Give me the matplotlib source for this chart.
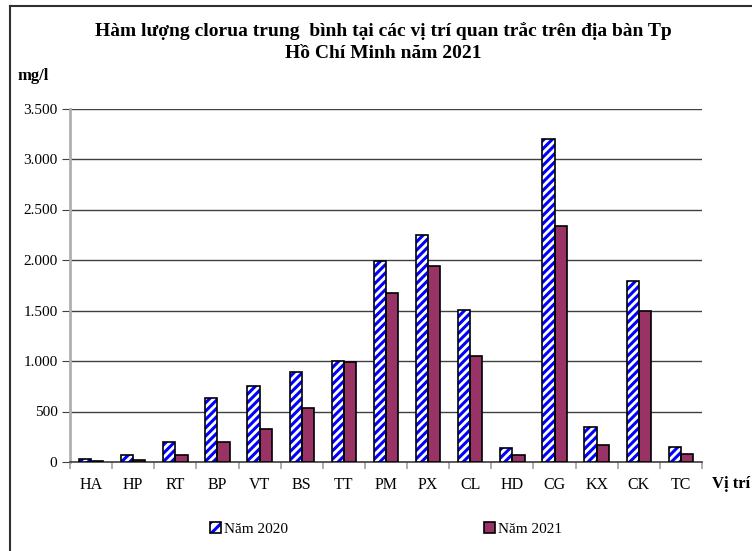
# Hàm lượng clorua trung bình - grouped bar chart 2020 vs 2021
import matplotlib
matplotlib.use("Agg")
import matplotlib.pyplot as plt
import numpy as np
from matplotlib.lines import Line2D
from matplotlib.patches import Patch
from matplotlib.legend_handler import HandlerTuple

plt.rcParams['font.family'] = ['Liberation Serif', 'DejaVu Serif']
plt.rcParams['hatch.linewidth'] = 2.2

# data
sites = ['HA', 'HP', 'RT', 'BP', 'VT', 'BS', 'TT', 'PM', 'PX', 'CL', 'HD', 'CG', 'KX', 'CK', 'TC']
y2020 = [30, 65, 195, 630, 750, 895, 1003, 1995, 2243, 1508, 135, 3200, 342, 1797, 145]
y2021 = [12, 20, 65, 200, 325, 530, 992, 1673, 1943, 1046, 73, 2333, 165, 1500, 83]
yticks = [0, 500, 1000, 1500, 2000, 2500, 3000, 3500]
ytick_labels = ['0', '500', '1.000', '1.500', '2.000', '2.500', '3.000', '3.500']

fig = plt.figure(figsize=(7.52, 5.51), dpi=100)
ax = fig.add_axes([70/752, 89/551, 632/752, 353.5/551])

x = np.arange(len(sites))
w = 0.29
# blue hatch layer, then black outline on top
ax.bar(x - w/2, y2020, w, color='white', edgecolor='#0000ff', hatch='////',
       linewidth=0, zorder=3)
ax.bar(x - w/2, y2020, w, fill=False, edgecolor='black', linewidth=1.2, zorder=4)
ax.bar(x + w/2, y2021, w, color='#993366', edgecolor='black',
       linewidth=1.2, zorder=3)

ax.set_xlim(-0.5, len(sites) - 0.5)
ax.set_ylim(0, 3500)
ax.set_yticks(yticks)
ax.set_yticklabels(ytick_labels, fontsize=11)
ax.yaxis.grid(True, color='#404040', linewidth=1, zorder=0)
ax.tick_params(axis='y', length=6, color='#404040', pad=3)

# category boundaries as major ticks, labels on minor ticks
ax.set_xticks(np.arange(-0.5, len(sites), 1))
ax.set_xticklabels([])
ax.set_xticks(x, minor=True)
ax.set_xticklabels(sites, minor=True, fontsize=11.5)
ax.tick_params(axis='x', which='major', length=5, color='#a0a0a0', width=1.2)
ax.tick_params(axis='x', which='minor', length=0, pad=11)

for s in ['top', 'right']:
    ax.spines[s].set_visible(False)
ax.spines['left'].set_color('#b0b0b0')
ax.spines['left'].set_linewidth(2)
ax.spines['bottom'].set_color('#404040')
ax.spines['bottom'].set_linewidth(1.2)

fig.text(383/752, 1 - 31/551, 'Hàm lượng clorua trung  bình tại các vị trí quan trắc trên địa bàn Tp',
         ha='center', va='center', fontsize=14, fontweight='bold')
fig.text(383/752, 1 - 54/551, 'Hồ Chí Minh năm 2021',
         ha='center', va='center', fontsize=14, fontweight='bold')
fig.text(18/752, 1 - 76/551, 'mg/l', ha='left', va='center', fontsize=12, fontweight='bold')
fig.text(750/752, 1 - 484/551, 'Vị trí', ha='right', va='center', fontsize=12, fontweight='bold')

h2020 = (Patch(facecolor='white', edgecolor='#0000ff', hatch='///', linewidth=0),
         Patch(fill=False, edgecolor='black', linewidth=1.2))
h2021 = Patch(facecolor='#993366', edgecolor='black', linewidth=1.2)
l = ['Năm 2020', 'Năm 2021']
fig.legend([h2020, h2021], l, loc='center', bbox_to_anchor=(386/752, 1 - 529/551), ncol=2,
           frameon=False, fontsize=11, handlelength=0.75, handleheight=0.75,
           handletextpad=0.2, columnspacing=12.8,
           handler_map={tuple: HandlerTuple(ndivide=1, pad=0)})

# outer frame (top and left edges only)
fig.add_artist(Line2D([10/752, 1], [1 - 6/551, 1 - 6/551], color='#303030', lw=1.5))
fig.add_artist(Line2D([10/752, 10/752], [0, 1 - 6/551], color='#303030', lw=1.5))

fig.savefig('out.png', dpi=100)
